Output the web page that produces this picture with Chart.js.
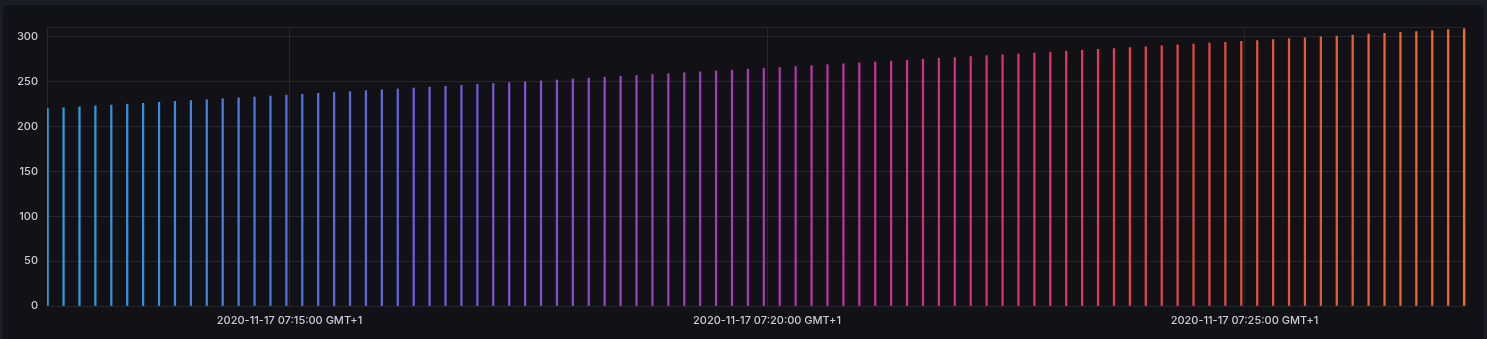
<!DOCTYPE html>
<html>
<head>
<meta charset="utf-8">
<script src="https://cdn.jsdelivr.net/npm/chart.js@4.4.0/dist/chart.umd.min.js"></script>
<style>
  html, body { margin: 0; padding: 0; background: #1b1c25; overflow: hidden; }
  .panel { position: absolute; left: 3px; top: 5px; width: 1481px; height: 345px; background: #111116; border-radius: 6px; }
  #wrap { position: absolute; left: 0; top: 0; width: 1487px; height: 339px; }
</style>
</head>
<body>
<div class="panel"></div>
<div id="wrap"><canvas id="myChart" width="1487" height="339"></canvas></div>
<script>
// samples every 10 s starting 07:12:28 (seconds since midnight)
const startSec = 7 * 3600 + 12 * 60 + 28;
const stepSec = 10;
const values = [
  220, 221, 222, 223, 224, 225, 226, 227, 228, 229,
  230, 231, 232, 233, 234, 235, 236, 237, 238, 239,
  240, 241, 242, 243, 244, 245, 246, 247, 248, 249,
  250, 251, 252, 253, 254, 255, 256, 257, 258, 259,
  260, 261, 262, 263, 264, 265, 266, 267, 268, 269,
  270, 271, 272, 273, 274, 275, 276, 277, 278, 279,
  280, 281, 282, 283, 284, 285, 286, 287, 288, 289,
  290, 291, 292, 293, 294, 295, 296, 297, 298, 299,
  300, 301, 302, 303, 304, 305, 306, 307, 308, 309
];
const times = values.map((v, i) => startSec + i * stepSec);
const tickTimes = [7 * 3600 + 15 * 60, 7 * 3600 + 20 * 60, 7 * 3600 + 25 * 60];
const dateLabel = '2020-11-17';
const yTicks = [0, 50, 100, 150, 200, 250, 300];

const colorStops = [
  [0.00, [42, 159, 214]],
  [0.18, [84, 112, 228]],
  [0.38, [142, 72, 204]],
  [0.52, [170, 58, 168]],
  [0.68, [224, 48, 108]],
  [0.82, [226, 74, 66]],
  [1.00, [242, 112, 30]]
];
function barColor(i, n) {
  const t = i / (n - 1);
  for (let k = 1; k < colorStops.length; k++) {
    if (t <= colorStops[k][0]) {
      const a = colorStops[k - 1], b = colorStops[k];
      const f = (t - a[0]) / (b[0] - a[0]);
      const c = a[1].map((x, j) => Math.round(x + (b[1][j] - x) * f));
      return `rgb(${c[0]},${c[1]},${c[2]})`;
    }
  }
  return 'rgb(242,112,30)';
}

const pad2 = n => String(n).padStart(2, '0');
function fmtTime(s) {
  return `${dateLabel} ${pad2(Math.floor(s / 3600))}:${pad2(Math.floor(s / 60) % 60)}:${pad2(s % 60)} GMT+1`;
}

const gridColor = '#25262e';

const framePlugin = {
  id: 'frame',
  beforeDatasetsDraw(chart) {
    const a = chart.chartArea, ctx = chart.ctx;
    ctx.save();
    ctx.strokeStyle = gridColor;
    ctx.lineWidth = 1;
    ctx.strokeRect(Math.round(a.left) + 0.5, Math.round(a.top) + 0.5, Math.round(a.right - a.left) - 1, Math.round(a.bottom - a.top));
    ctx.restore();
  }
};

const ctx = document.getElementById('myChart').getContext('2d');
new Chart(ctx, {
  type: 'bar',
  data: {
    datasets: [{
      data: times.map((t, i) => ({ x: t, y: values[i] })),
      backgroundColor: c => barColor(c.dataIndex, values.length),
      barThickness: 1.6,
      borderWidth: 0
    }]
  },
  plugins: [framePlugin],
  options: {
    responsive: false,
    animation: false,
    layout: { padding: { top: 27, right: 21, left: 0, bottom: 0 } },
    plugins: { legend: { display: false }, tooltip: { enabled: false } },
    scales: {
      x: {
        type: 'linear',
        offset: false,
        min: startSec - 0.4,
        max: startSec + 891.2,
        afterBuildTicks: s => { s.ticks = tickTimes.map(v => ({ value: v })); },
        afterFit: s => { s.height = 33; },
        ticks: {
          color: '#c8cbd4',
          font: { family: 'Inter', size: 11, weight: '500' },
          padding: 8,
          maxRotation: 0,
          autoSkip: false,
          callback: v => fmtTime(v)
        },
        grid: { color: gridColor, drawTicks: false, offset: false },
        border: { display: false }
      },
      y: {
        min: 0,
        max: 311,
        afterBuildTicks: s => { s.ticks = yTicks.map(v => ({ value: v })); },
        afterFit: s => { s.width = 47; },
        ticks: {
          color: '#c8cbd4',
          font: { family: 'Inter', size: 11, weight: '500' },
          padding: 9
        },
        grid: { color: gridColor, drawTicks: false },
        border: { display: false }
      }
    }
  }
});
</script>
</body>
</html>
